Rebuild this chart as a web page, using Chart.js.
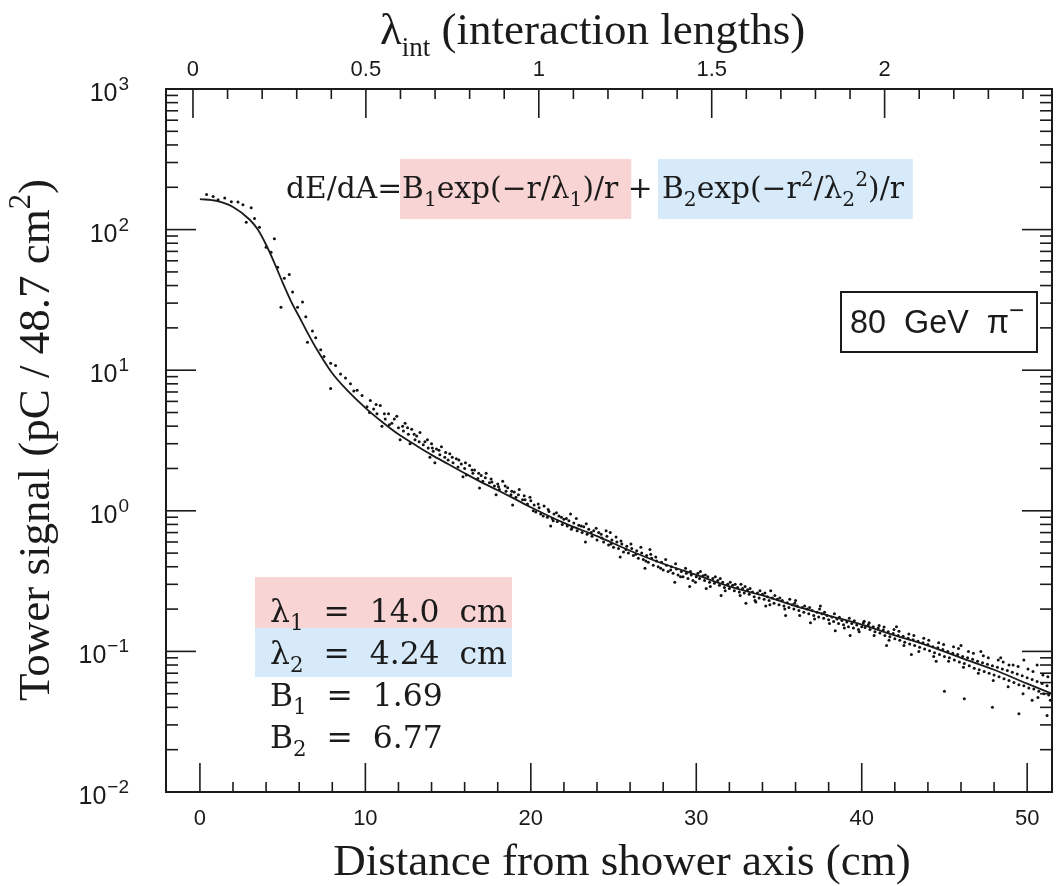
<!DOCTYPE html>
<html>
<head>
<meta charset="utf-8">
<script src="https://cdn.jsdelivr.net/npm/chart.js@4.4.1/dist/chart.umd.min.js"></script>
<style>
  html, body { margin: 0; padding: 0; background: #fff; }
  #wrap { width: 1056px; height: 886px; }
</style>
</head>
<body>
<div id="wrap"><canvas id="towerChart" width="1056" height="886"></canvas></div>
<script>
// tick values for the three axes
const distanceTicks = [0, 10, 20, 30, 40, 50];
const lambdaTicks = [0, 0.5, 1, 1.5, 2];
const lambdaLabels = ['0', '0.5', '1', '1.5', '2'];
const signalDecades = [0.01, 0.1, 1, 10, 100, 1000];
const signalExponents = ['−2', '−1', '0', '1', '2', '3'];

// fitted curve (r in cm, signal in pC)
const fitR = [0, 1, 2, 3, 3.5, 4, 4.5, 5, 5.5, 6, 6.5, 7, 8, 9, 10, 11, 12, 13, 14, 15, 16, 17, 18, 19, 20,
  22, 24, 26, 28, 30, 32, 34, 36, 38, 40, 42, 44, 46, 48, 50, 51.5];
const fitSignal = [165, 160, 145, 118, 100, 78, 58, 42, 31, 24, 18.5, 14.5, 9.5, 7.0, 5.4, 4.3, 3.5, 2.95, 2.5, 2.15, 1.85, 1.6, 1.4, 1.22, 1.06,
  0.82, 0.66, 0.52, 0.42, 0.35, 0.29, 0.25, 0.21, 0.18, 0.155, 0.13, 0.11, 0.09, 0.074, 0.059, 0.05];

// individual tower signals [r, signal]
const hits = [
  [0.4,178],[0.8,172],[1.1,163],[1.5,168],[1.9,158],[2.3,157],[2.6,150],[2.8,113],[3.1,143],[3.3,120],[3.6,104],
  [4.0,75],[4.3,69],[4.5,86],[4.7,54],[4.9,28],[5.1,45],[5.4,48],[5.6,36],[5.9,28],[6.2,30.5],[6.4,24],[6.5,15.8],
  [6.8,19],[7.0,17],[7.3,14],[7.5,12.5],[7.9,11.2],[7.9,7.4],[8.2,10.8],[8.5,9.4],[8.8,8.8],[9.1,8.0],[9.3,7.1],
  [9.5,7.2],[9.8,6.6],[10.1,5.5],[10.3,6.1],
  [10.5,5.3],[10.7,4.9],[10.9,5.6],[11.0,4.0],[11.2,4.5],[11.4,4.9],[11.6,4.2],[11.9,4.7],[12.0,3.9],[12.1,3.2],
  [12.3,3.7],[12.4,4.2],[12.6,3.5],[12.8,3.8],[13.0,3.2],[13.1,3.4],[13.3,3.6],[13.5,2.95],[13.6,3.1],[13.8,2.8],
  [14.0,3.0],[14.1,2.65],[14.2,2.2],[14.3,2.75],[14.5,2.5],[14.6,2.85],[14.8,2.4],[15.0,2.3],[15.1,2.55],[15.3,2.2],
  [15.5,2.35],[15.6,2.05],[15.8,2.15],[16.0,2.0],[16.1,1.8],[16.3,2.1],[16.5,1.85],[16.6,1.95],[16.8,1.7],[16.9,1.45],
  [17.0,1.78],[17.1,1.62],[17.3,1.85],[17.5,1.58],[17.6,1.68],[17.8,1.5],[18.0,1.55],[18.1,1.42],[18.3,1.62],
  [18.5,1.38],[18.6,1.46],[18.8,1.3],[18.9,1.1],[19.0,1.36],[19.1,1.25],[19.3,1.42],[19.5,1.2],[19.6,1.28],
  [19.8,1.12],[20.0,1.18],
  [10.25,5.0],[10.65,5.7],[11.15,4.9],[11.45,4.1],[11.75,4.5],[12.25,4.0],[12.55,3.9],[12.95,3.5],[13.25,3.1],
  [13.75,3.2],[14.05,2.8],[14.45,2.7],[14.85,2.6],[15.25,2.4],[15.65,2.3],[16.05,2.2],[16.45,1.95],[16.85,1.85],
  [17.25,1.72],[17.65,1.6],[18.05,1.48],[18.45,1.5],[18.85,1.38],[19.25,1.3],[19.65,1.2],[19.95,1.25],[15.9,1.75],
  [17.9,1.3],[13.9,2.4],[12.7,3.0],
  [20.2,1.1],[20.3,0.98],[20.5,1.05],[20.6,0.95],[20.8,1.08],[21.0,0.9],[21.1,0.99],[21.2,0.78],[21.3,0.88],
  [21.4,0.95],[21.6,0.84],[21.7,0.92],[21.9,0.8],[22.0,0.87],[22.2,0.78],[22.3,0.85],[22.4,0.95],[22.5,0.76],
  [22.6,0.82],[22.8,0.72],[22.9,0.79],[23.1,0.7],[23.2,0.77],[23.3,0.6],[23.4,0.68],[23.5,0.74],[23.7,0.66],
  [23.8,0.72],[24.0,0.62],[24.1,0.7],[24.3,0.64],[24.4,0.6],[24.6,0.66],[24.7,0.57],[24.8,0.7],[24.9,0.62],
  [25.0,0.55],[25.2,0.6],[25.3,0.54],[25.4,0.47],[25.5,0.58],[25.6,0.51],[25.8,0.56],[25.9,0.5],[26.1,0.54],
  [26.2,0.48],[26.4,0.52],[26.5,0.46],[26.7,0.5],[26.8,0.45],[26.9,0.39],[27.0,0.48],[27.1,0.43],[27.2,0.53],
  [27.3,0.46],[27.4,0.41],[27.6,0.44],[27.7,0.4],[27.9,0.43],[28.0,0.38],[28.2,0.41],[28.3,0.37],[28.5,0.4],
  [28.6,0.36],[28.7,0.31],[28.8,0.385],[28.9,0.35],[29.1,0.37],[29.2,0.34],[29.4,0.36],[29.5,0.33],[29.6,0.29],
  [29.7,0.35],[29.8,0.32],[30.0,0.34],
  [20.15,1.0],[20.45,1.12],[20.75,0.92],[21.05,1.02],[21.35,0.85],[21.55,0.97],[21.85,0.9],[22.15,0.88],[22.45,0.74],
  [22.75,0.88],[23.05,0.78],[23.35,0.81],[23.65,0.7],[23.95,0.75],[24.25,0.68],[24.55,0.72],[24.85,0.58],[25.15,0.65],
  [25.45,0.61],[25.75,0.53],[26.05,0.58],[26.35,0.49],[26.65,0.55],[26.95,0.44],[27.25,0.49],[27.55,0.47],[27.85,0.39],
  [28.15,0.45],[28.45,0.38],[28.75,0.42],[29.05,0.34],[29.35,0.39],[29.65,0.37],[29.95,0.31],
  [30.1,0.36],[30.2,0.33],[30.4,0.345],[30.5,0.32],[30.6,0.28],[30.7,0.34],[30.8,0.31],[31.0,0.33],[31.1,0.305],
  [31.3,0.32],[31.4,0.295],[31.5,0.25],[31.6,0.31],[31.7,0.285],[31.9,0.3],[32.0,0.28],[32.2,0.295],[32.3,0.27],
  [32.5,0.285],[32.6,0.265],[32.7,0.3],[32.8,0.28],[32.9,0.26],[33.0,0.22],[33.1,0.275],[33.2,0.255],[33.4,0.265],
  [33.5,0.245],[33.6,0.225],[33.7,0.26],[33.8,0.24],[34.0,0.255],[34.1,0.235],[34.2,0.21],[34.3,0.245],[34.4,0.23],
  [34.5,0.27],[34.6,0.24],[34.7,0.22],[34.9,0.235],[35.0,0.215],[35.2,0.23],[35.3,0.21],[35.4,0.18],[35.5,0.222],
  [35.6,0.205],[35.8,0.215],[35.9,0.2],[36.0,0.23],[36.1,0.21],[36.2,0.195],[36.4,0.205],[36.5,0.19],[36.7,0.2],
  [36.8,0.185],[36.9,0.16],[37.0,0.195],[37.1,0.18],[37.3,0.19],[37.4,0.176],[37.5,0.21],[37.6,0.185],[37.7,0.172],
  [37.9,0.18],[38.0,0.168],[38.2,0.176],[38.3,0.163],[38.4,0.14],[38.5,0.17],[38.6,0.158],[38.8,0.166],[38.9,0.155],
  [39.1,0.162],[39.2,0.15],[39.3,0.13],[39.4,0.158],[39.5,0.147],[39.7,0.154],[39.8,0.143],[40.0,0.15],
  [30.25,0.37],[30.55,0.35],[30.85,0.29],[31.15,0.34],[31.45,0.33],[31.75,0.27],[32.05,0.31],[32.35,0.3],[32.65,0.25],
  [32.95,0.29],[33.25,0.28],[33.55,0.23],[33.85,0.27],[34.15,0.26],[34.45,0.215],[34.75,0.25],[35.05,0.24],[35.35,0.2],
  [35.65,0.235],[35.95,0.22],[36.25,0.18],[36.55,0.21],[36.85,0.205],[37.15,0.17],[37.45,0.2],[37.75,0.19],[38.05,0.158],
  [38.35,0.185],[38.65,0.175],[38.95,0.147],[39.25,0.172],[39.55,0.165],[39.85,0.138],
  [40.1,0.16],[40.2,0.148],[40.4,0.155],[40.5,0.143],[40.7,0.15],[40.8,0.138],[41.0,0.147],[41.1,0.135],[41.3,0.142],
  [41.4,0.13],[41.5,0.11],[41.6,0.138],[41.7,0.127],[41.9,0.134],[42.0,0.123],[42.1,0.15],[42.2,0.13],[42.3,0.12],
  [42.5,0.128],[42.6,0.116],[42.8,0.124],[42.9,0.113],[43.0,0.095],[43.1,0.121],[43.2,0.11],[43.4,0.118],[43.5,0.107],
  [43.7,0.115],[43.8,0.104],[44.0,0.112],[44.1,0.101],[44.3,0.108],[44.4,0.098],[44.5,0.085],[44.6,0.106],[44.7,0.095],
  [44.9,0.103],[45.0,0.092],[45.0,0.052],[45.2,0.1],[45.3,0.09],[45.5,0.097],[45.6,0.087],[45.8,0.095],[45.9,0.084],
  [46.0,0.11],[46.1,0.092],[46.2,0.082],[46.2,0.046],[46.4,0.09],[46.5,0.079],[46.7,0.088],[46.8,0.076],[47.0,0.085],
  [47.1,0.074],[47.2,0.1],[47.3,0.083],[47.4,0.072],[47.6,0.081],[47.7,0.07],[47.9,0.079],[47.9,0.04],[48.0,0.068],
  [48.2,0.077],[48.3,0.066],[48.4,0.09],[48.5,0.075],[48.6,0.064],[48.8,0.073],[48.9,0.062],[48.9,0.08],[49.1,0.071],
  [49.2,0.06],[49.4,0.069],[49.5,0.058],[49.5,0.036],[49.7,0.067],[49.8,0.057],[49.8,0.087],[50.0,0.065],[50.1,0.055],
  [50.3,0.063],[50.3,0.045],[50.4,0.054],[50.6,0.061],[50.6,0.08],[50.7,0.052],[50.9,0.059],[51.0,0.05],[51.2,0.057],
  [51.2,0.035],[51.3,0.049],
  [40.15,0.164],[40.45,0.16],[40.75,0.13],[41.05,0.153],[41.35,0.149],[41.65,0.12],[41.95,0.143],[42.25,0.139],
  [42.55,0.11],[42.85,0.133],[43.15,0.13],[43.45,0.1],[43.75,0.124],[44.05,0.12],[44.35,0.092],[44.65,0.115],
  [44.95,0.112],[45.25,0.085],[45.55,0.108],[45.85,0.105],[46.15,0.077],[46.45,0.1],[46.75,0.097],[47.05,0.07],
  [47.35,0.093],[47.65,0.09],[47.95,0.062],[48.25,0.087],[48.55,0.084],[48.85,0.056],[49.15,0.08],[49.45,0.078],
  [49.75,0.05],[50.05,0.075],[50.35,0.072],[50.65,0.047],[50.95,0.068],[51.25,0.066],[51.4,0.045]
];

// annotation texts: [text, shift] with shift -1 = subscript, 1 = superscript
const formulaParts = [['dE/dA=', 0], ['B', 0], ['1', -1], ['exp(−r/λ', 0], ['1', -1], [')/r', 0], [' + ', 0],
  ['B', 0], ['2', -1], ['exp(−r', 0], ['2', 1], ['/λ', 0], ['2', -1], ['2', 1], [')/r', 0]];
const paramLines = [
  [['λ', 0], ['1', -1], ['  =  14.0  cm', 0]],
  [['λ', 0], ['2', -1], ['  =  4.24  cm', 0]],
  [['B', 0], ['1', -1], ['  =  1.69', 0]],
  [['B', 0], ['2', -1], ['  =  6.77', 0]]
];
const beamParts = [['80  GeV  π', 0], ['−', 1]];
const topTitleParts = [['λ', 0], ['int', -1], [' (interaction lengths)', 0]];
const xTitle = 'Distance from shower axis (cm)';
const yTitleParts = [['Tower signal (pC / 48.7 cm', 0], ['2', 1], [')', 0]];

const INK = '#1b1b1b';
const SERIF = '"Liberation Serif", "Times New Roman", serif';
const MATH = '"DejaVu Serif", serif';
const SANS = '"Liberation Sans", Arial, sans-serif';

// draws (or just measures) a run of text with sub/superscripts, returns span of each part
function richText(ctx, parts, x, y, size, family, draw, small = 0.68) {
  let cx = x;
  const spans = [];
  parts.forEach(([text, shift]) => {
    const fs = shift ? size * small : size;
    ctx.font = `${fs}px ${family}`;
    const w = ctx.measureText(text).width;
    const dy = shift < 0 ? size * 0.26 : shift > 0 ? -size * 0.42 : 0;
    if (draw) ctx.fillText(text, cx, y + dy);
    spans.push([cx, cx + w]);
    cx += w;
  });
  return spans;
}

function fitSize(ctx, parts, family, target) {
  const spans = richText(ctx, parts, 0, 0, 40, family, false);
  return 40 * target / spans[spans.length - 1][1];
}

const frameTicks = {
  id: 'frameTicks',
  beforeDraw(chart) {
    const ctx = chart.ctx;
    ctx.save();
    ctx.fillStyle = '#fff';
    ctx.fillRect(0, 0, chart.width, chart.height);
    ctx.restore();
  },
  afterDatasetsDraw(chart) {
    const { ctx, chartArea: a, scales } = chart;
    const seg = (x1, y1, x2, y2) => { ctx.beginPath(); ctx.moveTo(x1, y1); ctx.lineTo(x2, y2); ctx.stroke(); };
    ctx.save();
    ctx.strokeStyle = INK;
    ctx.lineWidth = 2;
    ctx.strokeRect(a.left, a.top, a.right - a.left, a.bottom - a.top);
    ctx.lineWidth = 1.6;
    for (let v = 0; v <= 50; v += 2) {
      const px = scales.x.getPixelForValue(v);
      seg(px, a.bottom, px, a.bottom - (v % 10 === 0 ? 29 : 10));
    }
    for (let i = 0; i <= 24; i++) {
      const px = scales.lambda.getPixelForValue(i / 10);
      seg(px, a.top, px, a.top + (i % 5 === 0 ? 29 : 10));
    }
    signalDecades.forEach((d, i) => {
      for (let m = 1; m <= 9; m++) {
        if (i === signalDecades.length - 1 && m > 1) break;
        const py = scales.y.getPixelForValue(d * m);
        const len = m === 1 ? 30 : 12;
        seg(a.left, py, a.left + len, py);
        seg(a.right, py, a.right - len, py);
      }
    });
    ctx.restore();
  },
  afterDraw(chart) {
    const { ctx, scales } = chart;
    ctx.save();
    ctx.fillStyle = INK;
    ctx.textBaseline = 'alphabetic';

    // y tick labels 10^n
    signalDecades.forEach((d, i) => {
      const py = scales.y.getPixelForValue(d);
      ctx.font = `19px ${SANS}`;
      const ew = ctx.measureText(signalExponents[i]).width;
      ctx.font = `25px ${SANS}`;
      const bw = ctx.measureText('10').width;
      const right = 129;
      ctx.fillText('10', right - ew - bw - 1, py + 12);
      ctx.font = `19px ${SANS}`;
      ctx.fillText(signalExponents[i], right - ew, py + 1);
    });

    // axis titles
    richText(ctx, topTitleParts, 380, 44, 45, SERIF, true, 0.6);
    ctx.font = `45px ${SERIF}`;
    ctx.textAlign = 'center';
    ctx.fillText(xTitle, 622, 875);
    ctx.textAlign = 'left';
    ctx.save();
    ctx.translate(49, 440);
    ctx.rotate(-Math.PI / 2);
    const yw = richText(ctx, yTitleParts, 0, 0, 45, SERIF, false);
    richText(ctx, yTitleParts, -yw[yw.length - 1][1] / 2, 0, 45, SERIF, true);
    ctx.restore();

    // formula with shaded terms
    const fs = fitSize(ctx, formulaParts, MATH, 618);
    const sp = richText(ctx, formulaParts, 286, 198, fs, MATH, false);
    ctx.fillStyle = 'rgba(248, 210, 210, 0.95)';
    ctx.fillRect(sp[1][0] - 2, 159, sp[5][1] + 13 - (sp[1][0] - 2), 60);
    ctx.fillStyle = 'rgba(212, 233, 250, 0.95)';
    ctx.fillRect(sp[7][0] - 4, 159, sp[14][1] + 9 - (sp[7][0] - 4), 60);
    ctx.fillStyle = INK;
    richText(ctx, formulaParts, 286, 198, fs, MATH, true);

    // fit parameters
    ctx.fillStyle = 'rgba(248, 210, 210, 0.95)';
    ctx.fillRect(255, 577, 257, 51);
    ctx.fillStyle = 'rgba(212, 233, 250, 0.95)';
    ctx.fillRect(255, 628, 257, 49);
    ctx.fillStyle = INK;
    const ps = fitSize(ctx, paramLines[0], MATH, 237);
    [622, 664, 706, 748].forEach((by, i) => richText(ctx, paramLines[i], 270, by, ps, MATH, true));

    // beam label
    ctx.strokeStyle = INK;
    ctx.lineWidth = 2;
    ctx.strokeRect(841, 292, 196, 60);
    const bs = fitSize(ctx, beamParts, SANS, 172);
    richText(ctx, beamParts, 850, 333, bs, SANS, true, 0.8);
    ctx.restore();
  }
};

const fitPoints = fitR.map((r, i) => ({ x: r, y: fitSignal[i] }));
const hitPoints = hits.map(([r, s]) => ({ x: r, y: s }));

new Chart(document.getElementById('towerChart'), {
  type: 'scatter',
  data: {
    datasets: [
      {
        label: 'fit',
        data: fitPoints,
        showLine: true,
        pointRadius: 0,
        borderColor: INK,
        borderWidth: 1.8,
        cubicInterpolationMode: 'monotone',
        fill: false
      },
      {
        label: 'towers',
        data: hitPoints,
        pointRadius: 1.5,
        pointBorderWidth: 0,
        backgroundColor: '#111'
      }
    ]
  },
  options: {
    responsive: false,
    devicePixelRatio: 1,
    animation: false,
    layout: { padding: { left: 0, right: 1, top: 0, bottom: 0 } },
    plugins: { legend: { display: false }, tooltip: { enabled: false } },
    scales: {
      x: {
        type: 'linear',
        position: 'bottom',
        min: -2.05,
        max: 51.5,
        afterBuildTicks: s => { s.ticks = distanceTicks.map(v => ({ value: v })); },
        afterFit: s => { s.height = 94; },
        grid: { display: false, drawTicks: false },
        border: { display: false },
        ticks: { color: INK, font: { family: SANS, size: 22 }, padding: 14, maxRotation: 0, autoSkip: false }
      },
      lambda: {
        type: 'linear',
        position: 'top',
        min: -0.078,
        max: 2.484,
        afterBuildTicks: s => { s.ticks = lambdaTicks.map(v => ({ value: v })); },
        afterFit: s => { s.height = 89; },
        grid: { display: false, drawTicks: false },
        border: { display: false },
        ticks: {
          color: INK, font: { family: SANS, size: 22 }, padding: 6, maxRotation: 0, autoSkip: false,
          callback: (v, i) => lambdaLabels[i]
        }
      },
      y: {
        type: 'logarithmic',
        min: 0.01,
        max: 1000,
        afterBuildTicks: s => { s.ticks = signalDecades.map(v => ({ value: v })); },
        afterFit: s => { s.width = 166; },
        grid: { display: false, drawTicks: false },
        border: { display: false },
        ticks: { display: false }
      }
    }
  },
  plugins: [frameTicks]
});
</script>
</body>
</html>
